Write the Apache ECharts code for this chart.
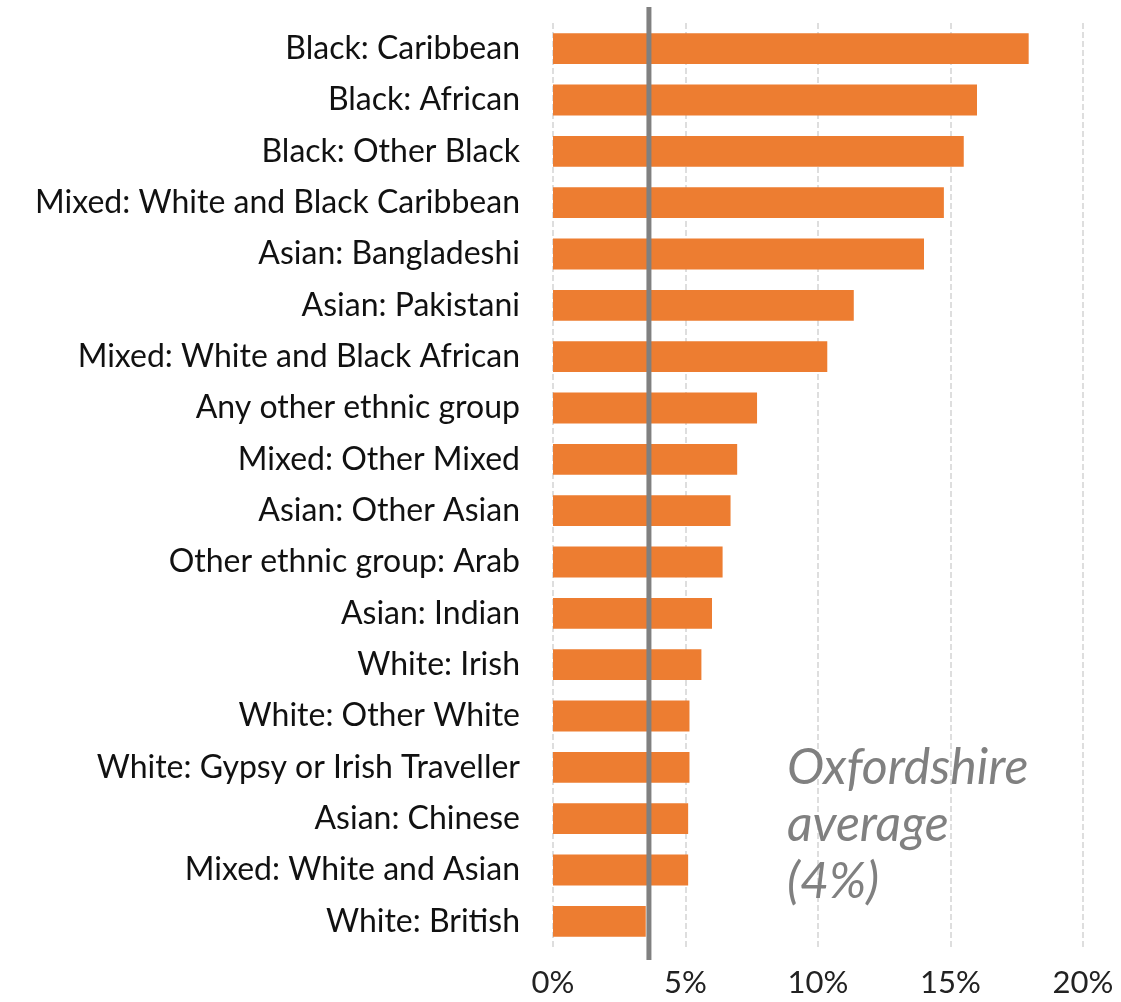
<!DOCTYPE html>
<html>
<head>
<meta charset="utf-8">
<script src="https://cdn.jsdelivr.net/npm/echarts@6/dist/echarts.min.js"></script>
<style>
  html, body { margin: 0; padding: 0; background: #fff; }
  #main { width: 1121px; height: 1002px; }
</style>
</head>
<body>
<div id="main"></div>
<script>
// categories listed top to bottom
const categories = [
  'Black: Caribbean',
  'Black: African',
  'Black: Other Black',
  'Mixed: White and Black Caribbean',
  'Asian: Bangladeshi',
  'Asian: Pakistani',
  'Mixed: White and Black African',
  'Any other ethnic group',
  'Mixed: Other Mixed',
  'Asian: Other Asian',
  'Other ethnic group: Arab',
  'Asian: Indian',
  'White: Irish',
  'White: Other White',
  'White: Gypsy or Irish Traveller',
  'Asian: Chinese',
  'Mixed: White and Asian',
  'White: British'
];
const values = [17.95, 16.0, 15.5, 14.75, 14.0, 11.35, 10.35, 7.7, 6.95, 6.7, 6.4, 6.0, 5.6, 5.15, 5.15, 5.1, 5.1, 3.5];
const average = 3.62;
const averageLabel = 'Oxfordshire\naverage\n(4%)';
const xTicks = [0, 5, 10, 15, 20];

const font = 'Lato';
const chart = echarts.init(document.getElementById('main'));

chart.setOption({
  animation: false,
  title: {
    text: averageLabel,
    left: 782,
    top: 734,
    textStyle: {
      fontFamily: font,
      fontStyle: 'italic',
      fontWeight: 'normal',
      fontSize: 50,
      lineHeight: 57,
      color: '#808080'
    }
  },
  grid: [
    {left: 553, right: 38, top: 23, bottom: 55},
    {left: 553, right: 38, top: 7, bottom: 42}
  ],
  xAxis: [
    {
      type: 'value',
      gridIndex: 0,
      min: xTicks[0],
      max: xTicks[xTicks.length - 1],
      interval: 5,
      axisLine: {show: false},
      axisTick: {show: false},
      splitLine: {lineStyle: {color: '#d4d4d4', type: 'dashed', width: 1.5}},
      axisLabel: {
        formatter: '{value}%',
        fontFamily: font,
        fontSize: 31,
        color: '#222',
        margin: 20
      }
    },
    {
      type: 'value',
      gridIndex: 1,
      min: xTicks[0],
      max: xTicks[xTicks.length - 1],
      show: false
    }
  ],
  yAxis: [
    {
      type: 'category',
      gridIndex: 0,
      data: categories,
      inverse: true,
      axisLine: {show: false},
      axisTick: {show: false},
      axisLabel: {
        fontFamily: font,
        fontSize: 32,
        color: '#111',
        margin: 33
      }
    },
    {
      type: 'value',
      gridIndex: 1,
      min: 0,
      max: 1,
      show: false
    }
  ],
  series: [
    {
      type: 'bar',
      xAxisIndex: 0,
      yAxisIndex: 0,
      data: values,
      barCategoryGap: '40%',
      itemStyle: {color: '#ed7d31'}
    },
    {
      type: 'line',
      xAxisIndex: 1,
      yAxisIndex: 1,
      data: [[average, 0], [average, 1]],
      symbol: 'none',
      lineStyle: {color: '#808080', width: 5}
    }
  ]
});
</script>
</body>
</html>
